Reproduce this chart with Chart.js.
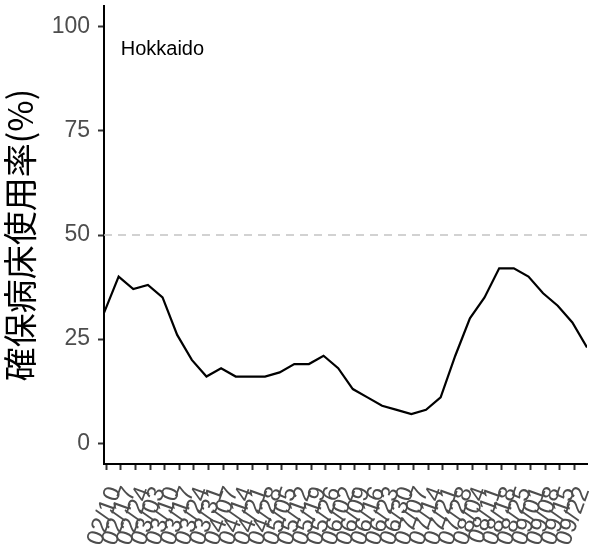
<!DOCTYPE html>
<html>
<head>
<meta charset="utf-8">
<script src="https://cdn.jsdelivr.net/npm/chart.js@4/dist/chart.umd.min.js"></script>
<style>
  html, body { margin: 0; padding: 0; background: #fff; }
  #chart { display: block; }
</style>
</head>
<body>
<canvas id="chart" width="596" height="548"></canvas>
<script>
// Hokkaido - weekly secured bed occupancy (%)
const YEAR = 2021;

const reportDates = [
  '02/09', '02/16', '02/23', '03/02', '03/09', '03/16', '03/23', '03/30',
  '04/06', '04/13', '04/20', '04/27', '05/04', '05/11', '05/18', '05/25',
  '06/01', '06/08', '06/15', '06/22', '06/29', '07/06', '07/13', '07/20',
  '07/27', '08/03', '08/10', '08/17', '08/24', '08/31', '09/07', '09/14',
  '09/21', '09/28'
];
const occupancy = [
  31.3, 40, 37, 38, 35, 26, 20, 16,
  18, 16, 16, 16, 17, 19, 19, 21,
  18, 13, 11, 9, 8, 7, 8, 11,
  21, 30, 35, 42, 42, 40, 36, 33,
  29, 23
];
const tickLabels = [
  '02/10', '02/17', '02/24', '03/03', '03/10', '03/17', '03/24', '03/31',
  '04/07', '04/14', '04/21', '04/28', '05/05', '05/12', '05/19', '05/26',
  '06/02', '06/09', '06/16', '06/23', '06/30', '07/07', '07/14', '07/21',
  '07/28', '08/04', '08/11', '08/18', '08/25', '09/01', '09/08', '09/15',
  '09/22'
];
const yTicks = [0, 25, 50, 75, 100];
const threshold = 50;
const regionName = 'Hokkaido';

// days since the first report
const origin = Date.UTC(YEAR, 1, 9);
function dayOf(md) {
  const [m, d] = md.split('/').map(Number);
  return Math.round((Date.UTC(YEAR, m - 1, d) - origin) / 86400000);
}

const xs = reportDates.map(dayOf);
const tickDays = tickLabels.map(dayOf);
const xMin = xs[0];
const xMax = xs[xs.length - 1];

const linePoints = xs.map((x, i) => ({ x, y: occupancy[i] }));
const thresholdPoints = [{ x: xMin, y: threshold }, { x: xMax, y: threshold }];

const tickColor = '#4d4d4d';

const regionLabel = {
  id: 'regionLabel',
  afterDatasetsDraw(chart) {
    const { ctx, scales } = chart;
    ctx.save();
    ctx.font = '20px "Liberation Sans", Arial, sans-serif';
    ctx.fillStyle = '#000';
    ctx.textAlign = 'left';
    ctx.textBaseline = 'middle';
    ctx.fillText(regionName, scales.x.getPixelForValue(8), scales.y.getPixelForValue(94.5));
    ctx.restore();
  }
};

new Chart(document.getElementById('chart'), {
  type: 'line',
  data: {
    datasets: [
      {
        data: thresholdPoints,
        borderColor: '#c4c4c4',
        borderWidth: 1.6,
        borderDash: [8, 6],
        pointRadius: 0,
        fill: false
      },
      {
        data: linePoints,
        borderColor: '#000',
        borderWidth: 2.2,
        pointRadius: 0,
        tension: 0,
        fill: false
      }
    ]
  },
  options: {
    responsive: false,
    animation: false,
    layout: { padding: { top: 6, right: 9, left: 0, bottom: 0 } },
    plugins: { legend: { display: false }, tooltip: { enabled: false } },
    scales: {
      x: {
        type: 'linear',
        min: xMin,
        max: xMax,
        afterBuildTicks: (scale) => { scale.ticks = tickDays.map(v => ({ value: v })); },
        afterFit: (scale) => {
          scale.height = 84;
          scale.paddingLeft = 0;
          scale.paddingRight = 0;
        },
        border: { display: true, color: '#000', width: 2 },
        grid: { drawOnChartArea: false, drawTicks: true, tickLength: 6, tickColor: '#333', tickWidth: 2 },
        ticks: {
          autoSkip: false,
          minRotation: 70,
          maxRotation: 70,
          padding: 13,
          labelOffset: 9,
          color: tickColor,
          font: { family: '"Liberation Sans", Arial, sans-serif', size: 24 },
          callback: (v, i) => tickLabels[i]
        }
      },
      y: {
        min: -5,
        max: 105,
        afterBuildTicks: (scale) => { scale.ticks = yTicks.map(v => ({ value: v })); },
        afterFit: (scale) => {
          scale.width = 104;
          scale.paddingTop = 0;
          scale.paddingBottom = 0;
        },
        border: { display: true, color: '#000', width: 2 },
        grid: { drawOnChartArea: false, drawTicks: true, tickLength: 6, tickColor: '#333', tickWidth: 2 },
        ticks: {
          padding: 8,
          color: tickColor,
          font: { family: '"Liberation Sans", Arial, sans-serif', size: 23 }
        },
        title: {
          display: true,
          text: '確保病床使用率(%)',
          color: '#000',
          padding: { top: 0, bottom: 0 },
          font: { family: '"Noto Sans CJK JP", sans-serif', size: 34 }
        }
      }
    }
  },
  plugins: [regionLabel]
});
</script>
</body>
</html>
